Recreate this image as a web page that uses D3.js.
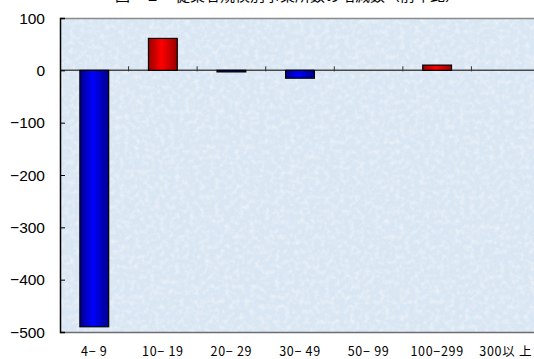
<!DOCTYPE html>
<html>
<head>
<meta charset="utf-8">
<script src="https://cdn.jsdelivr.net/npm/d3@7"></script>
<style>
  html, body { margin: 0; padding: 0; background: #ffffff; }
  svg { display: block; }
</style>
</head>
<body>
<svg id="chart" width="534" height="359"></svg>
<script>
// 従業者規模別 事業所数の増減
const categories = ["4\u2212 9", "10\u2212 19", "20\u2212 29", "30\u2212 49", "50\u2212 99", "100\u2212299", "300以 上"];
const values = [-490, 61, -3, -15, 0, 10, 0];
const yTicks = [100, 0, -100, -200, -300, -400, -500];
const titleText = "図－２　従業者規模別事業所数の増減数（前年比）";

const svg = d3.select("#chart");
const W = 534, H = 359;
const m = { left: 60, right: -6, top: 18, bottom: 27 };

const x = d3.scaleBand()
  .domain(categories)
  .range([m.left, W - m.right])
  .paddingInner(0.58)
  .paddingOuter(0.29);
const y = d3.scaleLinear()
  .domain([-500, 100])
  .range([H - m.bottom, m.top]);

const defs = svg.append("defs");

// fine mottled paper texture for the plot area
const tex = defs.append("filter").attr("id", "tex")
  .attr("x", 0).attr("y", 0).attr("width", 1).attr("height", 1);
tex.append("feTurbulence").attr("type", "fractalNoise")
  .attr("baseFrequency", 0.2).attr("numOctaves", 3).attr("seed", 7).attr("result", "n");
tex.append("feColorMatrix").attr("in", "n").attr("type", "matrix")
  .attr("values", "0 0 0 0 1  0 0 0 0 1  0 0 0 0 1  0 0 0 0.9 -0.38")
  .attr("result", "w");
tex.append("feComposite").attr("in", "w").attr("in2", "SourceGraphic").attr("operator", "atop");

// cylinder-like shading for bars
function grad(id, edge, mid) {
  const g = defs.append("linearGradient").attr("id", id)
    .attr("x1", "0%").attr("x2", "100%").attr("y1", "0%").attr("y2", "0%");
  g.append("stop").attr("offset", "0%").attr("stop-color", edge);
  g.append("stop").attr("offset", "45%").attr("stop-color", mid);
  g.append("stop").attr("offset", "100%").attr("stop-color", edge);
}
grad("gBlue", "#00008a", "#0000ff");
grad("gRed", "#9a0000", "#ff0000");

const plotW = (W - m.right) - m.left;
const plotH = (H - m.bottom) - m.top;

// plot background
svg.append("rect")
  .attr("x", m.left).attr("y", m.top)
  .attr("width", plotW).attr("height", plotH)
  .attr("fill", "#d9e6f3")
  .attr("filter", "url(#tex)");

// frame: gray top/bottom, black left
svg.append("line")
  .attr("x1", m.left).attr("x2", W).attr("y1", m.top + 0.5).attr("y2", m.top + 0.5)
  .attr("stroke", "#8a8a8a").attr("stroke-width", 1.5);
svg.append("line")
  .attr("x1", m.left).attr("x2", W).attr("y1", H - m.bottom + 0.5).attr("y2", H - m.bottom + 0.5)
  .attr("stroke", "#6e6e6e").attr("stroke-width", 1.5);

// zero line with category separators
const y0 = y(0);
svg.append("line")
  .attr("x1", m.left).attr("x2", W).attr("y1", y0).attr("y2", y0)
  .attr("stroke", "#4a4a4a").attr("stroke-width", 1.5);
const step = x.step();
const start = x(categories[0]) - x.paddingOuter() * step;
const bounds = d3.range(1, categories.length).map(i => start + i * step);
svg.selectAll("line.sep").data(bounds).join("line")
  .attr("class", "sep")
  .attr("x1", d => d).attr("x2", d => d)
  .attr("y1", y0 - 4).attr("y2", y0 + 1)
  .attr("stroke", "#333").attr("stroke-width", 1);

// bars
svg.selectAll("rect.bar").data(values.map((v, i) => ({ v, c: categories[i] })).filter(d => d.v !== 0))
  .join("rect")
  .attr("class", "bar")
  .attr("x", d => x(d.c))
  .attr("width", x.bandwidth())
  .attr("y", d => Math.min(y(d.v), y0))
  .attr("height", d => Math.max(Math.abs(y(d.v) - y0), 1.5))
  .attr("fill", d => d.v > 0 ? "url(#gRed)" : "url(#gBlue)")
  .attr("stroke", "#000")
  .attr("stroke-width", 1.2);

// y axis (ticks pointing into the plot)
const yAxis = svg.append("g")
  .attr("transform", `translate(${m.left},0)`)
  .call(d3.axisRight(y).tickValues(yTicks).tickSize(5).tickFormat(""));
yAxis.select(".domain").attr("stroke", "#000").attr("stroke-width", 1.5);
yAxis.selectAll(".tick line").attr("stroke", "#000");

svg.selectAll("text.ylab").data(yTicks).join("text")
  .attr("class", "ylab")
  .attr("x", 45)
  .attr("y", d => y(d))
  .attr("dy", "0.36em")
  .attr("text-anchor", "end")
  .attr("font-family", "'Liberation Sans', Arial, sans-serif")
  .attr("font-size", 15.5)
  .attr("fill", "#000")
  .text(d => d < 0 ? "\u2212" + Math.abs(d) : d);

// category labels
svg.selectAll("text.xlab").data(categories).join("text")
  .attr("class", "xlab")
  .attr("x", d => x(d) + x.bandwidth() / 2)
  .attr("y", 356)
  .attr("text-anchor", "middle")
  .attr("font-family", "'Noto Sans CJK JP', sans-serif")
  .attr("font-size", 12.5)
  .attr("letter-spacing", 0.7)
  .attr("fill", "#000")
  .style("white-space", "pre")
  .text(d => d);

// title (runs off the top edge)
svg.append("text")
  .attr("x", 115).attr("y", 1)
  .attr("font-family", "'Noto Sans CJK JP', sans-serif")
  .attr("font-size", 15)
  .attr("fill", "#000")
  .text(titleText);
</script>
</body>
</html>
